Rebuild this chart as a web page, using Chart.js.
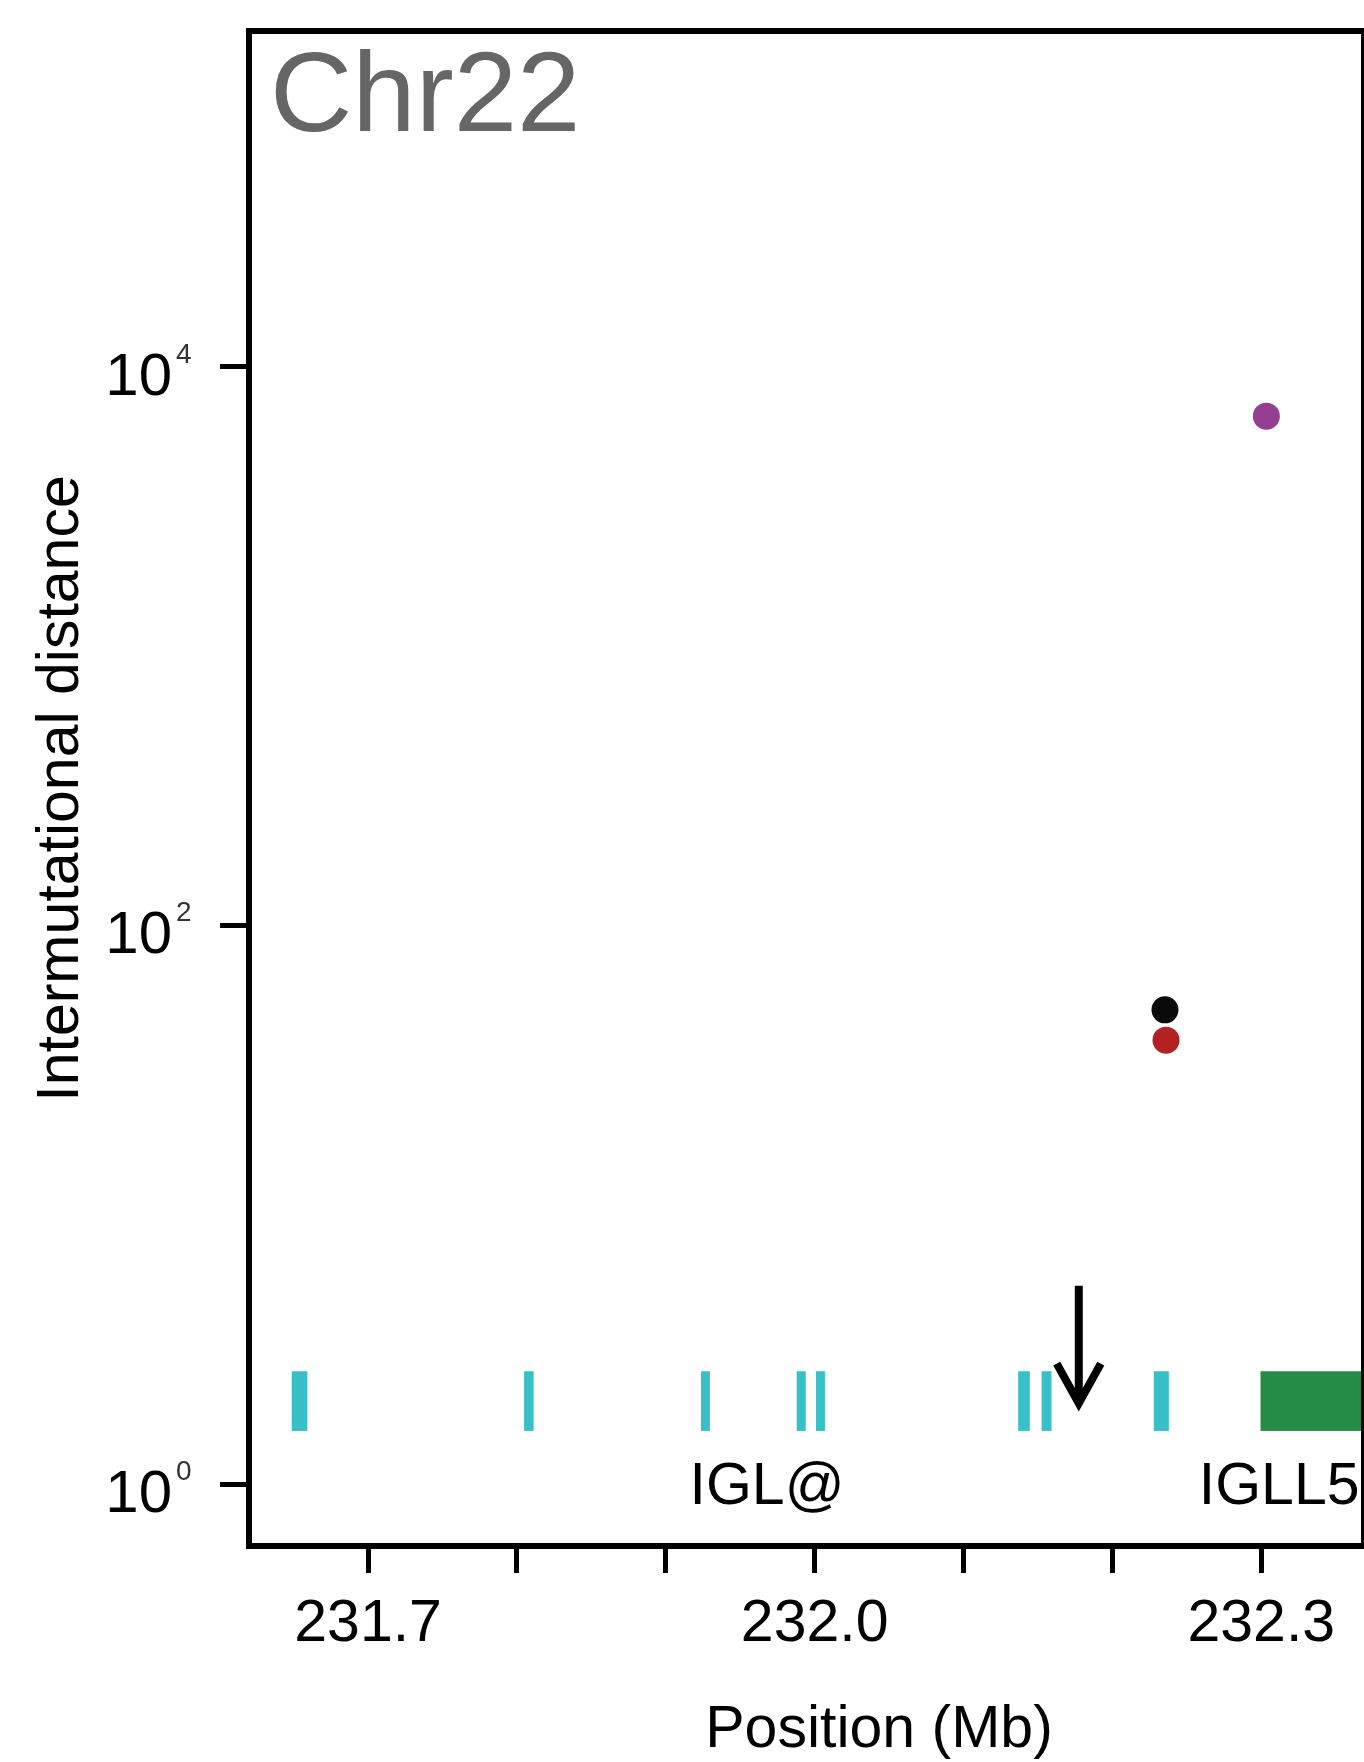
<!DOCTYPE html>
<html>
<head>
<meta charset="utf-8">
<script src="https://cdn.jsdelivr.net/npm/chart.js@4.4.1/dist/chart.umd.min.js"></script>
<style>
  html, body { margin: 0; padding: 0; background: #fff; overflow: hidden; }
  #wrap { width: 1364px; height: 1762px; position: relative; }
</style>
</head>
<body>
<div id="wrap"><canvas id="chart"></canvas></div>
<script>
// panel + axes
const chromLabel = 'Chr22';
const xTicks = [231.7, 231.8, 231.9, 232.0, 232.1, 232.2, 232.3];
const xTickLabels = ['231.7', '', '', '232.0', '', '', '232.3'];
const yTicks = [1, 100, 10000];
const yTickBase = '10';
const yTickExp = ['0', '2', '4'];

// mutations (position in Mb, intermutational distance)
const mutPos = [232.2353, 232.2360, 232.3034];
const mutDist = [49.8, 38.8, 6646];
const mutColors = ['#0a0a0a', '#b22222', '#943f91'];

// gene track
const geneStart = [231.6487, 231.8048, 231.9236, 231.9879, 232.0009, 232.1367, 232.1524, 232.2278, 232.2995];
const geneEnd   = [231.6592, 231.8112, 231.9296, 231.9940, 232.0069, 232.1445, 232.1591, 232.2379, 232.4500];
const geneKind  = ['IGL@', 'IGL@', 'IGL@', 'IGL@', 'IGL@', 'IGL@', 'IGL@', 'IGL@', 'IGLL5'];
const geneNames = ['IGL@', 'IGLL5'];
const geneLabelPos = [231.968, 232.312];
const trackLow = 1.549;
const trackHigh = 2.533;

// breakpoint arrow
const arrowPos = 232.1774;
const arrowTop = 5.13;
const arrowTip = 1.944;
const arrowWing = 2.698;

const geneColors = { 'IGL@': '#38c0c8', 'IGLL5': '#248c44' };
const FONT = '"Liberation Sans", Arial, sans-serif';

// keep the plot box where it is, no auto padding from tick labels
function noPad(s) {
  s.paddingTop = 0; s.paddingBottom = 0; s.paddingLeft = 0; s.paddingRight = 0;
}

const trackPlugin = {
  id: 'track',
  beforeDatasetsDraw(chart) {
    const { ctx, chartArea, scales: { x, y } } = chart;
    const yTop = y.getPixelForValue(trackHigh);
    const yBot = y.getPixelForValue(trackLow);
    ctx.save();
    ctx.beginPath();
    ctx.rect(chartArea.left, chartArea.top, chartArea.right - chartArea.left, chartArea.bottom - chartArea.top);
    ctx.clip();
    geneStart.forEach((s, i) => {
      const x0 = x.getPixelForValue(s);
      const x1 = x.getPixelForValue(geneEnd[i]);
      ctx.fillStyle = geneColors[geneKind[i]];
      ctx.fillRect(x0, yTop, x1 - x0, yBot - yTop);
    });
    ctx.restore();
  },
  afterDraw(chart) {
    const { ctx, chartArea: a, scales: { x, y } } = chart;
    ctx.save();
    // frame
    ctx.strokeStyle = '#000';
    ctx.lineWidth = 6;
    ctx.strokeRect(a.left, a.top, a.right - a.left, a.bottom - a.top);

    // y tick labels as 10 with a raised exponent
    ctx.textBaseline = 'alphabetic';
    yTicks.forEach((v, i) => {
      const py = y.getPixelForValue(v);
      ctx.fillStyle = '#000';
      ctx.font = '60px ' + FONT;
      ctx.textAlign = 'right';
      ctx.fillText(yTickBase, a.left - 77, py + 28);
      ctx.fillStyle = '#333';
      ctx.font = '28px ' + FONT;
      ctx.textAlign = 'left';
      ctx.fillText(yTickExp[i], a.left - 73, py - 4);
    });

    // panel label
    ctx.fillStyle = '#666';
    ctx.font = '114px ' + FONT;
    ctx.textAlign = 'left';
    ctx.fillText(chromLabel, a.left + 21, a.top + 100);

    // gene names
    ctx.fillStyle = '#000';
    ctx.font = '59px ' + FONT;
    ctx.textAlign = 'center';
    geneNames.forEach((n, i) => {
      ctx.fillText(n, x.getPixelForValue(geneLabelPos[i]), y.getPixelForValue(1) + 20);
    });

    // x axis title
    ctx.fillText('Position (Mb)', a.left + 630, a.bottom + 201);
    ctx.restore();
  }
};

new Chart(document.getElementById('chart'), {
  type: 'scatter',
  data: {
    datasets: [
      {
        label: 'mutations',
        data: mutPos.map((p, i) => ({ x: p, y: mutDist[i] })),
        backgroundColor: mutColors,
        borderWidth: 0,
        pointRadius: 13.5
      },
      {
        label: 'arrow shaft',
        data: [{ x: arrowPos, y: arrowTop }, { x: arrowPos, y: arrowTip }],
        showLine: true,
        borderColor: '#000',
        borderWidth: 8,
        pointRadius: 0
      },
      {
        label: 'arrow head',
        data: [{ x: arrowPos - 0.0148, y: arrowWing }, { x: arrowPos, y: arrowTip }, { x: arrowPos + 0.0148, y: arrowWing }],
        showLine: true,
        borderColor: '#000',
        borderWidth: 8,
        borderJoinStyle: 'miter',
        pointRadius: 0
      }
    ]
  },
  options: {
    responsive: true,
    maintainAspectRatio: false,
    animation: false,
    devicePixelRatio: 1,
    layout: { autoPadding: false, padding: { top: 31, right: 0, bottom: 0, left: 0 } },
    plugins: {
      legend: { display: false },
      tooltip: { enabled: false }
    },
    scales: {
      x: {
        type: 'linear',
        min: 231.62,
        max: 232.369,
        afterBuildTicks: s => { s.ticks = xTicks.map(v => ({ value: v })); },
        afterFit: s => { s.height = 216; noPad(s); },
        ticks: {
          callback: (v, i) => xTickLabels[i],
          autoSkip: false,
          maxRotation: 0,
          color: '#000',
          padding: 16,
          font: { family: FONT, size: 59 }
        },
        grid: { drawOnChartArea: false, drawTicks: true, tickLength: 27, tickWidth: 5, tickColor: '#000' },
        border: { display: false },
        title: { display: false }
      },
      y: {
        type: 'logarithmic',
        min: 0.637,
        max: 158900,
        afterBuildTicks: s => { s.ticks = yTicks.map(v => ({ value: v })); },
        afterFit: s => { s.width = 249; noPad(s); },
        ticks: { display: false },
        grid: { drawOnChartArea: false, drawTicks: true, tickLength: 29, tickWidth: 5, tickColor: '#000' },
        border: { display: false },
        title: {
          display: true,
          text: 'Intermutational distance',
          color: '#000',
          font: { family: FONT, size: 59, lineHeight: 1 },
          padding: { top: 32, bottom: 0 }
        }
      }
    }
  },
  plugins: [trackPlugin]
});
</script>
</body>
</html>
